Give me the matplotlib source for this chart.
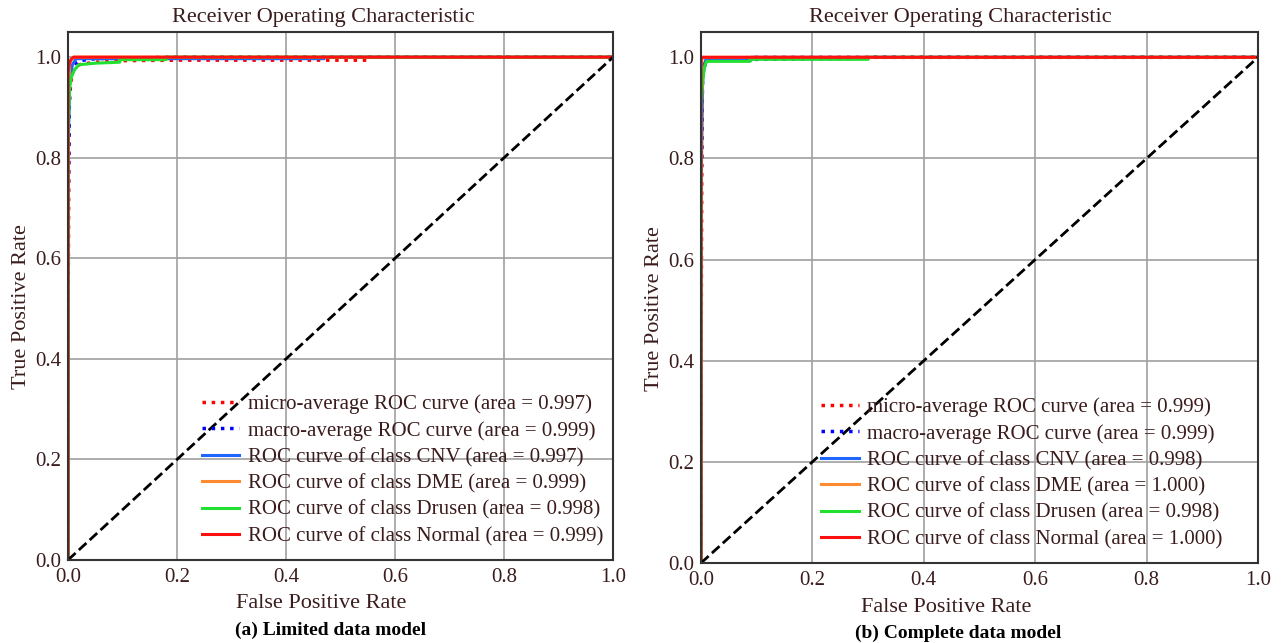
import matplotlib
matplotlib.use("Agg")
import matplotlib.pyplot as plt

plt.rcParams['font.family'] = ['Liberation Serif', 'DejaVu Serif']

TEXT = '#3a1c1c'

# ---- (a) limited data model ----
a_micro_fpr = [0, 0, 0.002, 0.005, 0.01, 0.02, 0.05, 0.1, 0.2, 0.55, 0.55, 1]
a_micro_tpr = [0, 0.45, 0.90, 0.95, 0.975, 0.985, 0.99, 0.993, 0.994, 0.994, 1.0, 1.0]
a_macro_fpr = [0, 0, 0.003, 0.01, 0.02, 0.05, 0.2, 1]
a_macro_tpr = [0, 0.68, 0.96, 0.985, 0.993, 0.997, 1.0, 1.0]
a_cnv_fpr = [0, 0, 0.003, 0.008, 0.015, 0.47, 0.47, 1]
a_cnv_tpr = [0, 0.80, 0.95, 0.985, 0.997, 0.997, 1.0, 1.0]
a_dme_fpr = [0, 0, 0.003, 0.01, 1]
a_dme_tpr = [0, 0.90, 0.99, 1.0, 1.0]
a_dru_fpr = [0, 0, 0.003, 0.006, 0.012, 0.02, 0.05, 0.095, 0.095, 0.18, 0.18, 1]
a_dru_tpr = [0, 0.85, 0.94, 0.96, 0.975, 0.985, 0.988, 0.99, 0.995, 0.995, 1.0, 1.0]
a_nor_fpr = [0, 0, 0.002, 0.005, 0.01, 1]
a_nor_tpr = [0, 0.97, 0.985, 0.995, 1.0, 1.0]
a_auc = [0.997, 0.999, 0.997, 0.999, 0.998, 0.999]

# ---- (b) complete data model ----
b_micro_fpr = [0, 0, 0.002, 0.005, 0.01, 0.05, 0.1, 1]
b_micro_tpr = [0, 0.33, 0.95, 0.985, 0.995, 0.998, 1.0, 1.0]
b_macro_fpr = [0, 0, 0.003, 0.01, 0.3, 0.3, 1]
b_macro_tpr = [0, 0.72, 0.97, 0.995, 0.998, 1.0, 1.0]
b_cnv_fpr = [0, 0, 0.003, 0.008, 0.09, 0.09, 1]
b_cnv_tpr = [0, 0.72, 0.96, 0.994, 0.994, 1.0, 1.0]
b_dme_fpr = [0, 0, 0.002, 1]
b_dme_tpr = [0, 0.98, 1.0, 1.0]
b_dru_fpr = [0, 0, 0.003, 0.006, 0.01, 0.088, 0.088, 0.3, 0.3, 1]
b_dru_tpr = [0, 0.90, 0.95, 0.98, 0.992, 0.992, 0.996, 0.996, 1.0, 1.0]
b_nor_fpr = [0, 0, 0.002, 1]
b_nor_tpr = [0, 0.995, 1.0, 1.0]
b_auc = [0.999, 0.999, 0.998, 1.000, 0.998, 1.000]

classes = ['CNV', 'DME', 'Drusen', 'Normal']
class_colors = ['#1f66ff', '#ff8a30', '#22e030', '#ff1010']
ticks = [0.0, 0.2, 0.4, 0.6, 0.8, 1.0]


def draw(ax, curves, aucs, caption, leg_anchor, title_x, xlab_x, cap_x):
    (mi_f, mi_t), (ma_f, ma_t) = curves[0], curves[1]
    ax.grid(True, color='#a0a0a0', linewidth=1.2)
    ax.set_axisbelow(True)
    ax.plot(mi_f, mi_t, ':', color='red', linewidth=2.5,
            label='micro-average ROC curve (area = {0:0.3f})'.format(aucs[0]))
    ax.plot(ma_f, ma_t, ':', color='blue', linewidth=2.5,
            label='macro-average ROC curve (area = {0:0.3f})'.format(aucs[1]))
    for i, name in enumerate(classes):
        f, t = curves[i + 2]
        ax.plot(f, t, color=class_colors[i], linewidth=2.2,
                label='ROC curve of class {0} (area = {1:0.3f})'.format(name, aucs[i + 2]))
    ax.plot([0, 1], [0, 1], 'k--', linewidth=2)
    ax.set_xlim(0.0, 1.0)
    ax.set_ylim(0.0, 1.05)
    ax.set_xticks(ticks)
    ax.set_yticks(ticks)
    ax.tick_params(axis='x', length=0, pad=6, labelsize=15, labelcolor=TEXT)
    ax.tick_params(axis='y', length=0, pad=5, labelsize=15, labelcolor=TEXT)
    for s in ax.spines.values():
        s.set_color('#333333')
        s.set_linewidth(1.5)
    ax.set_xlabel('False Positive Rate', fontsize=16, color=TEXT, labelpad=2)
    ax.xaxis.set_label_coords(xlab_x, -0.065)
    ax.set_ylabel('True Positive Rate', fontsize=16, color=TEXT, labelpad=3)
    ax.yaxis.label.set_y(0.48)
    ax.set_title('Receiver Operating Characteristic', fontsize=16, color=TEXT,
                 pad=7, x=title_x)
    ax.legend(loc='lower right', bbox_to_anchor=leg_anchor, frameon=False,
              fontsize=15, borderpad=0, handlelength=1.8, handletextpad=0.4,
              labelspacing=0.33, labelcolor=TEXT)
    ax.text(cap_x, -0.133, caption, transform=ax.transAxes, ha='center', va='center',
            fontsize=14, fontweight='bold', color='black')


fig = plt.figure(figsize=(12.86, 6.43), dpi=100)
ax1 = fig.add_axes([0.0529, 0.1291, 0.4238, 0.8211])
ax2 = fig.add_axes([0.5451, 0.1244, 0.4331, 0.8258])

draw(ax1, [(a_micro_fpr, a_micro_tpr), (a_macro_fpr, a_macro_tpr),
           (a_cnv_fpr, a_cnv_tpr), (a_dme_fpr, a_dme_tpr),
           (a_dru_fpr, a_dru_tpr), (a_nor_fpr, a_nor_tpr)],
     a_auc, '(a) Limited data model', (1.001, 0.006), 0.468, 0.464, 0.481)
draw(ax2, [(b_micro_fpr, b_micro_tpr), (b_macro_fpr, b_macro_tpr),
           (b_cnv_fpr, b_cnv_tpr), (b_dme_fpr, b_dme_tpr),
           (b_dru_fpr, b_dru_tpr), (b_nor_fpr, b_nor_tpr)],
     b_auc, '(b) Complete data model', (0.955, 0.006), 0.465, 0.44, 0.461)

fig.savefig('out.png', dpi=100)
